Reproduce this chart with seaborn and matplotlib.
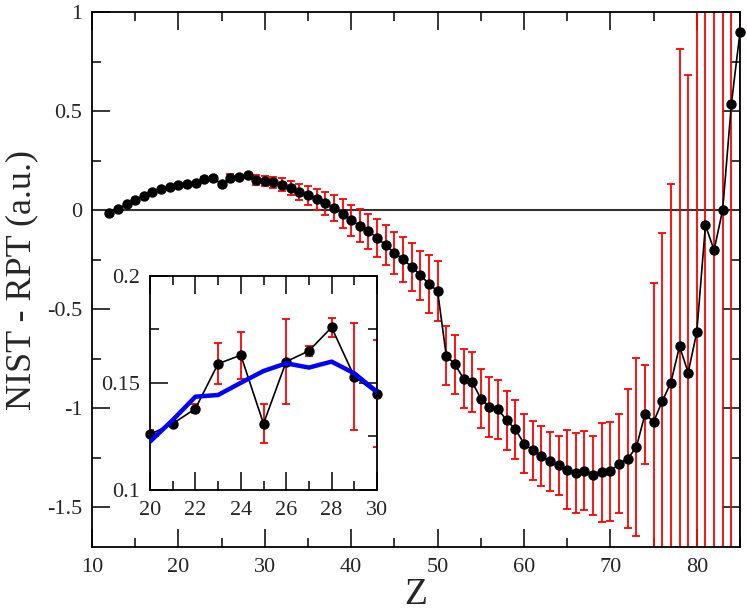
import numpy as np
import pandas as pd
import matplotlib
matplotlib.use("Agg")
import matplotlib.pyplot as plt
from matplotlib.ticker import MultipleLocator
import seaborn as sns

# ---------------- data ----------------
Z = list(range(12, 86))
diff = [-0.012, 0.005, 0.029, 0.051, 0.071, 0.091, 0.106, 0.118,
        0.126, 0.131, 0.138, 0.159, 0.163, 0.131, 0.160, 0.165, 0.176, 0.153, 0.145,
        0.140, 0.128, 0.113, 0.092, 0.076, 0.056, 0.034, 0.009, -0.017, -0.051,
        -0.079, -0.106, -0.140, -0.177, -0.214, -0.249, -0.286, -0.328, -0.372, -0.409,
        -0.734, -0.778, -0.850, -0.867, -0.951, -0.993, -1.005, -1.061, -1.106, -1.178,
        -1.212, -1.241, -1.268, -1.288, -1.310, -1.327, -1.315, -1.338, -1.322, -1.318,
        -1.279, -1.254, -1.197, -1.030, -1.068, -0.965, -0.870, -0.687, -0.820, -0.615,
        -0.076, -0.202, 0.003, 0.535, 0.900]
err = [0, 0, 0, 0, 0, 0, 0, 0,
       0.002, 0.001, 0.002, 0.0095, 0.011, 0.009, 0.020, 0.0023, 0.0045, 0.025, 0.025,
       0.028, 0.032, 0.036, 0.042, 0.048, 0.053, 0.060, 0.066, 0.072, 0.079,
       0.084, 0.089, 0.094, 0.100, 0.106, 0.115, 0.120, 0.124, 0.148, 0.150,
       0.150, 0.150, 0.150, 0.150, 0.150, 0.150, 0.150, 0.150, 0.150, 0.150,
       0.150, 0.150, 0.150, 0.150, 0.200, 0.200, 0.200, 0.200, 0.250, 0.250,
       0.250, 0.350, 0.450, 0.250, 0.700, 0.850, 1.000, 1.500, 1.500, 3.000,
       3.000, 3.000, 3.000, 3.000, 3.000]

inset_Z = list(range(20, 31))
inset_fit = [0.1226, 0.1327, 0.1436, 0.1444, 0.1501, 0.1556, 0.1592, 0.1572, 0.1600, 0.1545, 0.1459]

df = pd.DataFrame({"Z": Z, "diff": diff, "err": err})
dfi = df[(df.Z >= 20) & (df.Z <= 30)]

# ---------------- style ----------------
sns.set_theme(style="ticks")
plt.rcParams["font.family"] = ["Liberation Serif", "DejaVu Serif"]
plt.rcParams["axes.unicode_minus"] = False

fig = plt.figure(figsize=(7.47, 6.12), dpi=100)
ax = fig.add_axes([92 / 747, 65 / 612, 648 / 747, 535 / 612])


def style_axis(a, xmaj, xmin, ymaj, ymin):
    a.xaxis.set_major_locator(MultipleLocator(xmaj))
    a.xaxis.set_minor_locator(MultipleLocator(xmin))
    a.yaxis.set_major_locator(MultipleLocator(ymaj))
    a.yaxis.set_minor_locator(MultipleLocator(ymin))
    a.tick_params(which="both", direction="in", top=True, right=True,
                  width=1.1, color="black")
    a.tick_params(which="major", length=13, labelsize=16)
    a.tick_params(which="minor", length=6.5)
    a.tick_params(axis="x", which="major", pad=8)
    a.tick_params(axis="y", which="major", pad=7)
    for s in a.spines.values():
        s.set_linewidth(1.3)
        s.set_color("black")
    a.set_facecolor("white")


# main axes
ax.axhline(0, color="#333333", lw=1.5, zorder=1)
ax.errorbar(df.Z, df["diff"], yerr=df.err, fmt="none", ecolor="red",
            elinewidth=1.3, capsize=3, capthick=1.3, zorder=2)
sns.lineplot(data=df, x="Z", y="diff", ax=ax, color="black", lw=1.2,
             marker="o", markersize=7.5, markeredgewidth=0,
             markerfacecolor="black", zorder=3, clip_on=False)
ax.set_xlim(10, 85)
ax.set_ylim(-1.7, 1.0)
style_axis(ax, 10, 5, 0.5, 0.25)
ax.set_xlabel("Z", fontsize=27, labelpad=0)
ax.set_ylabel("NIST - RPT (a.u.)", fontsize=26, labelpad=6)
ax.yaxis.set_major_formatter(matplotlib.ticker.FuncFormatter(lambda v, p: f"{v:g}"))

# inset axes
axi = fig.add_axes([150 / 747, 122 / 612, 227 / 747, 214 / 612])
axi.errorbar(dfi.Z, dfi["diff"], yerr=dfi.err, fmt="none", ecolor="red",
             elinewidth=1.3, capsize=3, capthick=1.3, zorder=2)
sns.lineplot(data=dfi, x="Z", y="diff", ax=axi, color="black", lw=1.2,
             marker="o", markersize=7.5, markeredgewidth=0,
             markerfacecolor="black", zorder=3, clip_on=False)
sns.lineplot(x=inset_Z, y=inset_fit, ax=axi, color="#0000ff", lw=3.2, zorder=4)
axi.set_xlim(20, 30)
axi.set_ylim(0.1, 0.2)
style_axis(axi, 2, 1, 0.05, 0.025)
axi.set_xlabel("")
axi.set_ylabel("")
axi.yaxis.set_major_formatter(matplotlib.ticker.FuncFormatter(lambda v, p: f"{v:g}"))

fig.savefig("out.png", dpi=100, facecolor="white")
